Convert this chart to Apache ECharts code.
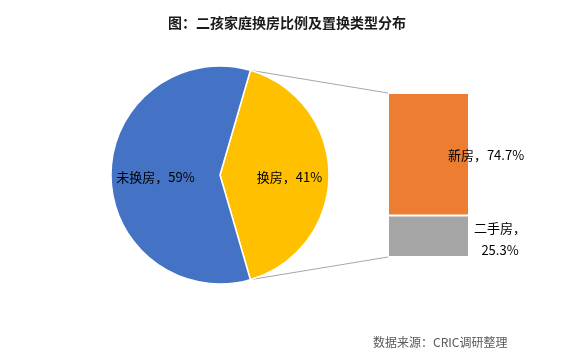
<!DOCTYPE html>
<html>
<head>
<meta charset="utf-8">
<script src="https://cdn.jsdelivr.net/npm/echarts@6/dist/echarts.min.js"></script>
<style>html,body{margin:0;padding:0;background:#fff;}#c{width:574px;height:357px;}</style>
</head>
<body>
<div id="c"></div>
<script>
const titleText = '图：二孩家庭换房比例及置换类型分布';
const sourceText = '数据来源：CRIC调研整理';
const pieNames = ['换房', '未换房'];
const pieValues = [41, 59];
const pieColors = ['#FFC000', '#4472C4'];
const barNames = ['二手房', '新房'];
const barValues = [25.3, 74.7];
const barColors = ['#A5A5A5', '#ED7D31'];

const FONT = '"Noto Sans CJK SC", "Noto Sans", sans-serif';
const pieCenter = [220, 175];
const pieRadius = 109;
const total = pieValues.reduce((a, b) => a + b, 0);
const startAngle = pieValues[0] / total * 360 / 2;

const chart = echarts.init(document.getElementById('c'), null, {renderer: 'canvas'});
const labelOffsets = [[12, 2], [-7, 2]];
const barLabelPos = [[112, 24], [98, 62]];

chart.setOption({
  animation: false,
  title: {
    text: titleText, left: 'center', top: 11,
    textStyle: {fontFamily: FONT, fontSize: 14, fontWeight: 'bold', color: '#1a1a1a'}
  },
  grid: {left: 388, width: 81, top: 93, height: 164},
  xAxis: {type: 'category', data: [''], show: false},
  yAxis: {type: 'value', min: 0, max: 100, show: false},
  series: [
    {
      type: 'pie', center: pieCenter, radius: pieRadius, startAngle: startAngle,
      clockwise: true, avoidLabelOverlap: false,
      itemStyle: {borderColor: '#fff', borderWidth: 1.5},
      label: {position: 'inner', fontFamily: FONT, fontSize: 13, color: '#000',
        formatter: p => p.name + '，' + p.value + '%'},
      labelLine: {show: false},
      data: pieNames.map((n, i) => ({name: n, value: pieValues[i],
        itemStyle: {color: pieColors[i]}, label: {offset: labelOffsets[i]}}))
    },
    ...barNames.map((n, i) => ({
      type: 'bar', name: n, stack: 's', barWidth: '100%',
      itemStyle: {color: barColors[i], borderColor: '#fff', borderWidth: 1},
      label: {show: true, position: barLabelPos[i], align: 'center', verticalAlign: 'middle',
        fontFamily: FONT, fontSize: 13, color: '#000', lineHeight: 22,
        formatter: i === 0 ? (n + '，\n' + barValues[i] + '%') : (n + '，' + barValues[i] + '%')},
      data: [barValues[i]]
    }))
  ]
});

// connector lines computed from pie geometry and bar axes
const a = startAngle * Math.PI / 180;
const pTop = [pieCenter[0] + pieRadius * Math.cos(a), pieCenter[1] - pieRadius * Math.sin(a)];
const pBot = [pieCenter[0] + pieRadius * Math.cos(a), pieCenter[1] + pieRadius * Math.sin(a)];
const barTop = chart.convertToPixel({gridIndex: 0}, [0, 100]);
const barBot = chart.convertToPixel({gridIndex: 0}, [0, 0]);
const barLeft = 388;
chart.setOption({
  graphic: [
    {type: 'text', left: 373, top: 336, style: {text: sourceText, font: '12px ' + FONT, fill: '#595959'}},
    {type: 'line', shape: {x1: pTop[0], y1: pTop[1], x2: barLeft, y2: barTop[1]}, style: {stroke: '#A6A6A6', lineWidth: 1}},
    {type: 'line', shape: {x1: pBot[0], y1: pBot[1], x2: barLeft, y2: barBot[1]}, style: {stroke: '#A6A6A6', lineWidth: 1}}
  ]
});
</script>
</body>
</html>
